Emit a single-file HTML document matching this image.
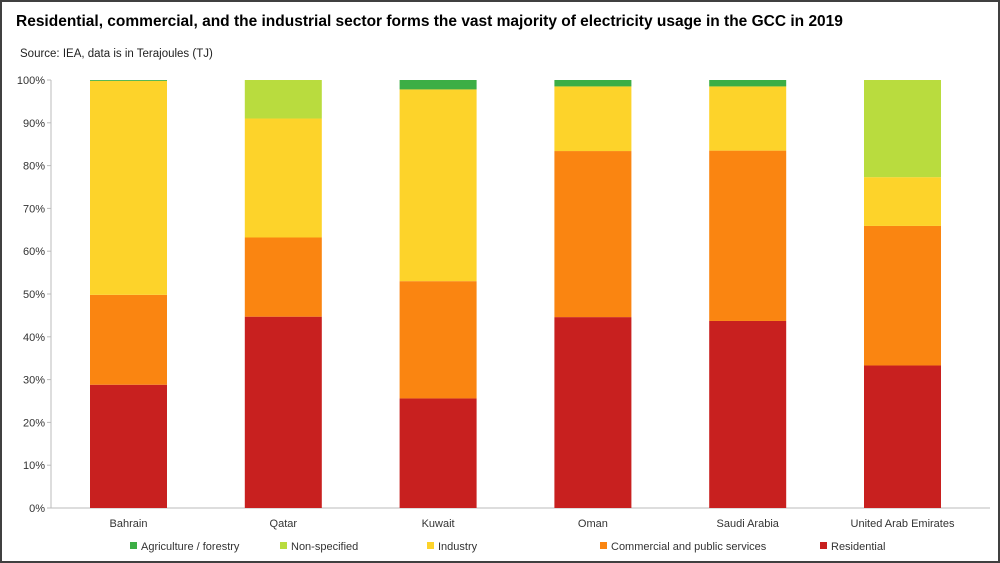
<!DOCTYPE html>
<html><head><meta charset="utf-8">
<style>
html,body{margin:0;padding:0;background:#fff;}
#frame{position:relative;width:1000px;height:563px;box-sizing:border-box;border:2px solid #404040;overflow:hidden;font-family:"Liberation Sans",sans-serif;}
#title{position:absolute;left:14px;top:11px;font-size:15.5px;font-weight:bold;color:#000;white-space:nowrap;}
#sub{position:absolute;left:18px;top:46px;font-size:11.5px;color:#222;}
svg{position:absolute;left:0;top:0;}
</style></head>
<body>
<div id="frame">
<div id="title">Residential, commercial, and the industrial sector forms the vast majority of electricity usage in the GCC in 2019</div>
<div id="sub">Source: IEA, data is in Terajoules (TJ)</div>
<svg id="chart" width="996" height="559"></svg>
</div>
<script>
const categories=["Bahrain","Qatar","Kuwait","Oman","Saudi Arabia","United Arab Emirates"];
const residential=[28.8,44.7,25.6,44.6,43.7,33.3];
const commercial=[21.0,18.5,27.4,38.8,39.8,32.6];
const industry=[50.0,27.8,44.8,15.1,15.0,11.4];
const nonSpecified=[0,9.0,0,0,0,22.7];
const agriculture=[0.2,0,2.2,1.5,1.5,0];
const yTicks=[0,10,20,30,40,50,60,70,80,90,100];
const seriesNames=["Residential","Commercial and public services","Industry","Non-specified","Agriculture / forestry"];
const seriesColors=["#c8201f","#fa8511","#fdd32a","#b9dc3e","#3cae45"];
const seriesData=[residential,commercial,industry,nonSpecified,agriculture];
const legendOrder=[4,3,2,1,0];

const NS="http://www.w3.org/2000/svg";
const svg=document.getElementById('chart');
const X0=49,XEND=988,Y0=506,Y1=78;
const y=v=>Y0-(v/100)*(Y0-Y1);
const band=154.8;
const x=i=>126.5+band*i;
const bw=77;
function el(t,a){const e=document.createElementNS(NS,t);for(const k in a)e.setAttribute(k,a[k]);svg.appendChild(e);return e;}

yTicks.forEach(t=>{
  const tk=el('line',{x1:X0-4,x2:X0,y1:y(t),y2:y(t),stroke:'#bbb'});
  
  
  const lb=el('text',{x:X0-6,y:y(t)+4,'text-anchor':'end','font-size':'11','fill':'#333'});
  lb.textContent=t+'%';
  
  
});
const ax=el('line',{x1:X0,x2:X0,y1:Y1,y2:Y0,stroke:'#bbb'});


const xa=el('line',{x1:X0,x2:XEND,y1:Y0,y2:Y0,stroke:'#bbb'});



categories.forEach((c,i)=>{
  let cum=0;
  seriesData.forEach((s,k)=>{
    const v=s[i]; if(v<=0)return;
    const r=el('rect',{x:x(i)-bw/2,y:y(cum+v),width:bw,height:y(cum)-y(cum+v),fill:seriesColors[k]});
    
    
    cum+=v;
  });
  const t=el('text',{x:x(i),y:Y0+19,'text-anchor':'middle','font-size':'11','fill':'#333'});
  t.textContent=c;
  
  
});

const legX=[128,278,425,598,818];
legendOrder.forEach((k,j)=>{
  const g=el('g',{});
  
  
  const r=document.createElementNS(NS,'rect');
  r.setAttribute('x',legX[j]);r.setAttribute('y',540);r.setAttribute('width',7);r.setAttribute('height',7);r.setAttribute('fill',seriesColors[k]);
  g.appendChild(r);
  const t=document.createElementNS(NS,'text');
  t.setAttribute('x',legX[j]+11);t.setAttribute('y',548);t.setAttribute('font-size','11');t.setAttribute('fill','#333');
  t.textContent=seriesNames[k];
  g.appendChild(t);
});
</script>
</body></html>
